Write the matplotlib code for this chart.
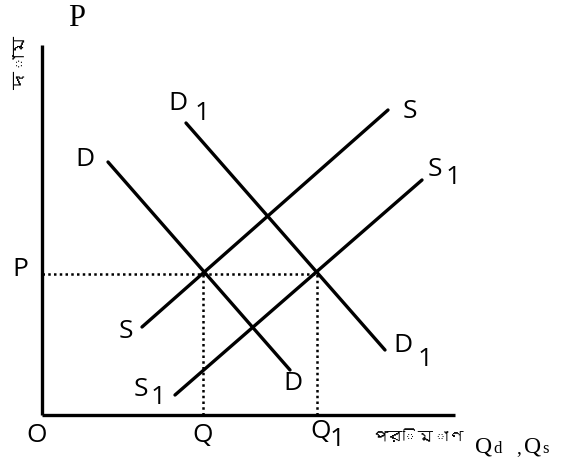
import matplotlib
matplotlib.use("Agg")
import matplotlib.pyplot as plt
from matplotlib import font_manager
from matplotlib.ft2font import FT2Font

# find a font that can draw Bengali, if any is around
def bengali_font():
	for path in font_manager.findSystemFonts():
		try:
			if 0x09A6 in FT2Font(path).get_charmap():
				font_manager.fontManager.addfont(path)
				return font_manager.FontProperties(fname=path).get_name()
		except Exception:
			pass
	return None

bn = bengali_font()
bn_family = [bn, 'DejaVu Sans'] if bn else ['DejaVu Sans']
sans = ['Open Sans', 'DejaVu Sans']
serif = ['Liberation Serif', 'DejaVu Serif']

# curves (quantity, price) end points, origin at O
D_q = [66, 248]
D_p = [253, 45]
D1_q = [144, 343]
D1_p = [292, 65]
S_q = [100, 346]
S_p = [88, 305]
S1_q = [133, 380]
S1_p = [20, 235]

# equilibrium points
E_q = [161, 275]
E_p = 141

# axes extents
x_end = 413
y_end = 370

fig = plt.figure(figsize=(5.74, 4.68), dpi=100)
ax = fig.add_axes([0, 0, 1, 1])
ax.set_xlim(-42, 532)
ax.set_ylim(-53, 415)
ax.axis('off')

lw = 2.4
ax.plot([0, 0], [0, y_end], color='black', lw=lw, solid_capstyle='butt')
ax.plot([0, x_end], [0, 0], color='black', lw=lw, solid_capstyle='butt')

for q, p in [(D_q, D_p), (D1_q, D1_p), (S_q, S_p), (S1_q, S1_p)]:
	ax.plot(q, p, color='black', lw=lw, solid_capstyle='round')

dots = (0, (1, 1.3))
ax.plot([0, E_q[1]], [E_p, E_p], color='black', lw=1.8, linestyle=dots)
for q in E_q:
	ax.plot([q, q], [0, E_p], color='black', lw=1.8, linestyle=dots)

fs = 19
def label(x, y, s, sub=None, dx=24, dy=-9):
	ax.text(x, y, s, fontsize=fs, family=sans, ha='center', va='center')
	if sub:
		ax.text(x + dx, y + dy, sub, fontsize=fs, family=sans, ha='center', va='center')

label(43, 256, 'D')
label(136, 311, 'D', '1')
label(251, 31, 'D')
label(361, 69, 'D', '1', dx=22, dy=-14)
label(368, 303, 'S')
label(393, 246, 'S', '1', dx=18, dy=-8)
label(84, 83, 'S')
label(99, 25, 'S', '1', dx=17, dy=-7)

# axis labels
ax.text(-22, 146, 'P', fontsize=fs, family=sans, ha='center', va='center')
ax.text(-5, -20, 'O', fontsize=fs, family=sans, ha='center', va='center')
label(161, -20, 'Q')
label(279, -16, 'Q', '1', dx=16, dy=-9)
ax.text(330, -22, 'পরিমাণ', fontsize=11, family=bn_family, ha='left', va='center')
ax.text(-20, 352, 'দাম', fontsize=13, family=bn_family, rotation=90, ha='center', va='center')

ax.text(35, 397, 'P', fontsize=22, family=serif, ha='center', va='center')
ax.text(433, -38, 'Q', fontsize=17, family=serif, ha='left', va='baseline')
ax.text(451, -38, 'd', fontsize=12, family=serif, ha='left', va='baseline')
ax.text(474, -38, ',', fontsize=14, family=serif, ha='left', va='baseline')
ax.text(482, -38, 'Q', fontsize=17, family=serif, ha='left', va='baseline')
ax.text(500, -38, 's', fontsize=12, family=serif, ha='left', va='baseline')

fig.savefig('out.png', dpi=100)
